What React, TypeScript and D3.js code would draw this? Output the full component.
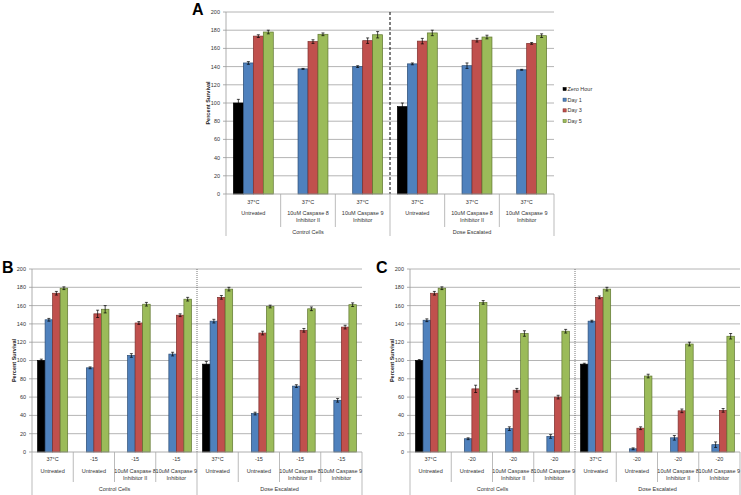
import React from "react";
import * as d3 from "d3";

const seriesNames = ["Zero Hour", "Day 1", "Day 3", "Day 5"];
const seriesFill = ["#000000", "#4f81bd", "#c0504d", "#9bbb59"];
const seriesStroke = ["#000000", "#2c4d75", "#7d2f2d", "#5f7530"];
const yTicks = [0, 20, 40, 60, 80, 100, 120, 140, 160, 180, 200];

// Panel A
const aTemps = ["37°C", "37°C", "37°C", "37°C", "37°C", "37°C"];
const aTreatments = [
  "Untreated", "10uM Caspase 8|Inhibitor II", "10uM Caspase 9|Inhibitor",
  "Untreated", "10uM Caspase 8|Inhibitor II", "10uM Caspase 9|Inhibitor",
];
const aGroups = ["Control Cells", "Dose Escalated"];
const aZero = [100, null, null, 96, null, null];
const aDay1 = [144, 137.5, 140, 143, 141, 136.5];
const aDay3 = [173.5, 167.5, 168.5, 168, 169, 165.5];
const aDay5 = [178, 175.5, 175, 177, 172.5, 174];
const aZeroErr = [4, 0, 0, 4, 0, 0];
const aDay1Err = [1.5, 0.5, 1, 1, 3, 0.5];
const aDay3Err = [1.5, 2, 3, 3, 2, 1];
const aDay5Err = [2, 1.5, 3.5, 3, 2, 2];

// Panel B
const bTemps = ["37°C", "-15", "-15", "-15", "37°C", "-15", "-15", "-15"];
const bTreatments = [
  "Untreated", "Untreated", "10uM Caspase 8|Inhibitor II", "10uM Caspase 9|Inhibitor",
  "Untreated", "Untreated", "10uM Caspase 8|Inhibitor II", "10uM Caspase 9|Inhibitor",
];
const bGroups = ["Control Cells", "Dose Escalated"];
const bZero = [100, null, null, null, 96, null, null, null];
const bDay1 = [144.5, 92, 105.5, 107, 143, 42, 72, 56.5];
const bDay3 = [173.5, 151, 141, 149.5, 169, 130, 133, 136.5];
const bDay5 = [179, 156, 161.5, 167, 178, 159, 156.5, 161];
const bZeroErr = [1.5, 0, 0, 0, 3, 0, 0, 0];
const bDay1Err = [1.5, 1, 2, 2, 2, 1.5, 1.5, 2];
const bDay3Err = [2, 4, 1.5, 1.5, 2, 2, 2, 2];
const bDay5Err = [1.5, 4, 2, 2, 2, 1.5, 2, 2];

// Panel C
const cTemps = ["37°C", "-20", "-20", "-20", "37°C", "-20", "-20", "-20"];
const cTreatments = bTreatments;
const cGroups = ["Control Cells", "Dose Escalated"];
const cZero = [100, null, null, null, 96, null, null, null];
const cDay1 = [144, 14.5, 25.5, 17, 143, 3.5, 15.5, 8];
const cDay3 = [173.5, 69, 67.5, 60, 169, 26, 45, 45.5];
const cDay5 = [179, 163.5, 129.5, 132, 178, 83, 118, 126.5];
const cZeroErr = [1, 0, 0, 0, 1, 0, 0, 0];
const cDay1Err = [1.5, 1, 2, 2, 1, 1, 2.5, 3];
const cDay3Err = [2, 4, 2, 2, 1.5, 1.5, 2, 2];
const cDay5Err = [1.5, 2, 3, 2, 2, 2, 2, 3];

const FONT = "'Liberation Sans', Arial, sans-serif";

type PanelProps = {
  letter: string;
  letterX: number;
  letterY: number;
  left: number;
  right: number;
  top: number;
  bottom: number;
  temps: string[];
  treatments: string[];
  groups: string[];
  values: (number | null)[][];
  errors: number[][];
  tempY: number;
  treatY: number;
  lineGap: number;
  groupY: number;
  innerSepBottom: number;
  outerBottom: number;
  titleX: number;
  divider: "dashed" | "dotted";
};

function Panel(p: PanelProps) {
  const n = p.temps.length;
  const idx = d3.range(n).map(String);
  const x = d3.scaleBand<string>().domain(idx).range([p.left, p.right]).padding(0);
  const xs = d3
    .scaleBand<string>()
    .domain(seriesNames)
    .range([0, x.bandwidth()])
    .paddingInner(0)
    .paddingOuter(0.74);
  const y = d3.scaleLinear().domain([0, 200]).range([p.bottom, p.top]);
  const bw = xs.bandwidth();
  const mid = (p.left + p.right) / 2;
  const half = n / 2;
  const divX = x(String(half))!;
  return (
    <g fontFamily={FONT}>
      <text x={p.letterX} y={p.letterY} fontSize={16} fontWeight="bold" fill="#000">
        {p.letter}
      </text>
      {yTicks.map((t) => (
        <g key={t}>
          {t > 0 && (
            <line x1={p.left} x2={p.right} y1={y(t)} y2={y(t)} stroke="#b4b4b4" strokeWidth={1} />
          )}
          <line x1={p.left - 3} x2={p.left} y1={y(t)} y2={y(t)} stroke="#999" strokeWidth={0.8} />
          <text x={p.left - 6} y={y(t)} dy="0.35em" fontSize={5.5} textAnchor="end" fill="#333">
            {t}
          </text>
        </g>
      ))}
      <line x1={p.left} x2={p.left} y1={p.top} y2={p.bottom} stroke="#999" strokeWidth={0.8} />
      <text
        transform={`translate(${p.titleX},${(p.top + p.bottom) / 2}) rotate(-90)`}
        fontSize={5.5}
        fontWeight="bold"
        textAnchor="middle"
        dy="0.35em"
        fill="#222"
      >
        Percent Survival
      </text>
      {/* bars */}
      {idx.map((c, ci) =>
        seriesNames.map((s, si) => {
          const v = p.values[si][ci];
          if (v == null) return null;
          const bx = x(c)! + xs(s)!;
          const e = p.errors[si][ci];
          const cx = bx + bw / 2;
          return (
            <g key={c + s}>
              <rect
                x={bx}
                y={y(v)}
                width={bw}
                height={p.bottom - y(v)}
                fill={seriesFill[si]}
                stroke={seriesStroke[si]}
                strokeWidth={0.7}
              />
              {e > 0 && (
                <g stroke="#000" strokeWidth={0.7}>
                  <line x1={cx} x2={cx} y1={y(v + e)} y2={y(v - e)} />
                  <line x1={cx - 1.5} x2={cx + 1.5} y1={y(v + e)} y2={y(v + e)} />
                  <line x1={cx - 1.5} x2={cx + 1.5} y1={y(v - e)} y2={y(v - e)} />
                </g>
              )}
            </g>
          );
        })
      )}
      {/* divider */}
      <line
        x1={divX}
        x2={divX}
        y1={p.top}
        y2={p.bottom}
        stroke={p.divider === "dashed" ? "#000" : "#555"}
        strokeWidth={p.divider === "dashed" ? 1 : 0.8}
        strokeDasharray={p.divider === "dashed" ? "3,2" : "1,1"}
      />
      {/* category axis */}
      <line x1={p.left} x2={p.right} y1={p.bottom} y2={p.bottom} stroke="#999" strokeWidth={0.8} />
      {d3.range(n + 1).map((i) => {
        const xx = i < n ? x(String(i))! : p.right;
        const outer = i === 0 || i === n || i === half;
        return (
          <line
            key={i}
            x1={xx}
            x2={xx}
            y1={p.bottom}
            y2={outer ? p.outerBottom : p.innerSepBottom}
            stroke="#aaa"
            strokeWidth={0.8}
          />
        );
      })}
      {idx.map((c, ci) => {
        const cx = x(c)! + x.bandwidth() / 2;
        const lines = p.treatments[ci].split("|");
        return (
          <g key={c} fontSize={5.5} fill="#333" textAnchor="middle">
            <text x={cx} y={p.tempY} dy="0.35em">
              {p.temps[ci]}
            </text>
            {lines.map((l, li) => (
              <text key={li} x={cx} y={p.treatY + li * p.lineGap} dy="0.35em">
                {l}
              </text>
            ))}
          </g>
        );
      })}
      {p.groups.map((g, gi) => (
        <text
          key={g}
          x={gi === 0 ? (p.left + divX) / 2 : (divX + p.right) / 2}
          y={p.groupY}
          dy="0.35em"
          fontSize={5.5}
          fill="#333"
          textAnchor="middle"
        >
          {g}
        </text>
      ))}
    </g>
  );
}

function Legend({ x0, y0 }: { x0: number; y0: number }) {
  return (
    <g fontFamily={FONT}>
      {seriesNames.map((s, i) => (
        <g key={s}>
          <rect x={x0} y={y0 + i * 10.7 - 1.6} width={3.2} height={3.2} fill={seriesFill[i]} stroke={seriesStroke[i]} strokeWidth={0.5} />
          <text x={x0 + 4.5} y={y0 + i * 10.7} dy="0.35em" fontSize={5.5} fill="#333">
            {s}
          </text>
        </g>
      ))}
    </g>
  );
}

export default function App() {
  return (
    <svg
      width={741}
      height={495}
      style={{ position: "absolute", left: 0, top: 0, background: "#fff" }}
    >
      <rect width={741} height={495} fill="#fff" />
      <Panel
        letter="A"
        letterX={192}
        letterY={15}
        left={226}
        right={554}
        top={12}
        bottom={194}
        temps={aTemps}
        treatments={aTreatments}
        groups={aGroups}
        values={[aZero, aDay1, aDay3, aDay5]}
        errors={[aZeroErr, aDay1Err, aDay3Err, aDay5Err]}
        tempY={202}
        treatY={213}
        lineGap={7}
        groupY={232}
        innerSepBottom={227}
        outerBottom={236}
        titleX={208}
        divider="dashed"
      />
      <Legend x0={563} y0={89} />
      <Panel
        letter="B"
        letterX={2}
        letterY={273}
        left={32}
        right={362}
        top={269}
        bottom={452}
        temps={bTemps}
        treatments={bTreatments}
        groups={bGroups}
        values={[bZero, bDay1, bDay3, bDay5]}
        errors={[bZeroErr, bDay1Err, bDay3Err, bDay5Err]}
        tempY={459}
        treatY={471}
        lineGap={7.5}
        groupY={489}
        innerSepBottom={482}
        outerBottom={495}
        titleX={14}
        divider="dotted"
      />
      <Panel
        letter="C"
        letterX={376}
        letterY={273}
        left={410}
        right={740}
        top={269}
        bottom={452}
        temps={cTemps}
        treatments={cTreatments}
        groups={cGroups}
        values={[cZero, cDay1, cDay3, cDay5]}
        errors={[cZeroErr, cDay1Err, cDay3Err, cDay5Err]}
        tempY={459}
        treatY={471}
        lineGap={7.5}
        groupY={489}
        innerSepBottom={482}
        outerBottom={495}
        titleX={392}
        divider="dotted"
      />
    </svg>
  );
}
